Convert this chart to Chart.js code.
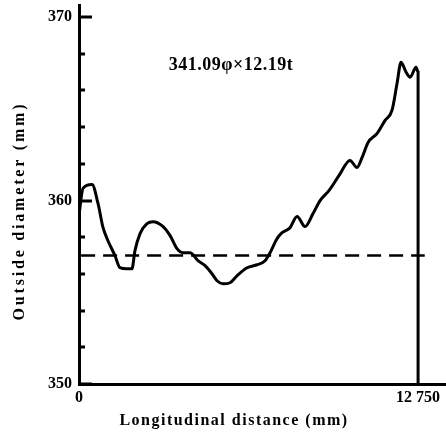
<!DOCTYPE html>
<html>
<head>
<meta charset="utf-8">
<script src="https://cdn.jsdelivr.net/npm/chart.js@4.4.1/dist/chart.umd.min.js"></script>
<style>
  html, body { margin: 0; padding: 0; background: #fff; }
  #wrap { width: 446px; height: 443px; }
</style>
</head>
<body>
<div id="wrap"><canvas id="c"></canvas></div>
<script>
// distance along the pipe (mm) and measured outside diameter (mm)
const distance = [0, 150, 490, 715, 905, 1090, 1355, 1540, 1805, 1990, 2105, 2295, 2555, 2785,
  3120, 3425, 3685, 3910, 4175, 4475, 4740, 5000, 5190, 5415, 5680, 5940, 6320, 6695, 6995,
  7185, 7445, 7635, 7935, 8200, 8500, 8800, 9065, 9405, 9780, 10190, 10455, 10645, 10870,
  11210, 11510, 11770, 11960, 12110, 12300, 12450, 12675, 12750, 12750];
const diameter = [359.2, 360.66, 360.87, 359.84, 358.52, 357.81, 356.99, 356.34, 356.28, 356.28,
  357.27, 358.2, 358.74, 358.85, 358.63, 358.09, 357.38, 357.16, 357.16, 356.72, 356.45, 356.01,
  355.63, 355.46, 355.52, 355.9, 356.34, 356.5, 356.72, 357.16, 357.92, 358.25, 358.52, 359.13,
  358.58, 359.29, 360.0, 360.55, 361.37, 362.19, 361.8, 362.35, 363.17, 363.66, 364.37, 364.92,
  366.39, 367.54, 366.99, 366.72, 367.27, 367.0, 350];

const meanDiameter = 357.0;
const meanFrom = 80, meanTo = 13000;

const yLabelled = [350, 360, 370];
const xTickValues = [0, 12750];
const xTickLabels = ['0', '12 750'];

const xTitle = 'Longitudinal distance (mm)';
const yTitle = 'Outside diameter (mm)';
const note = '341.09\u03c6\u00d712.19t';

const SERIF = '"Liberation Serif", "DejaVu Serif", serif';

/* Ticks nach innen + Achsentitel + Beschriftung */
const decor = {
  id: 'decor',
  afterDraw(chart) {
    const { ctx, chartArea } = chart;
    const ys = chart.scales.y, xs = chart.scales.x;
    ctx.save();
    ctx.strokeStyle = '#000';
    ctx.lineWidth = 3;
    for (let v = 350; v <= 370; v += 2) {
      const py = Math.round(ys.getPixelForValue(v));
      const len = v % 10 === 0 ? 13 : 6;
      ctx.beginPath();
      ctx.moveTo(chartArea.left, py);
      ctx.lineTo(chartArea.left + len, py);
      ctx.stroke();
    }
    ctx.fillStyle = '#000';
    ctx.textAlign = 'center';
    ctx.textBaseline = 'middle';
    ctx.letterSpacing = '1.5px';
    ctx.font = 'bold 16px ' + SERIF;
    ctx.fillText(xTitle, 234, 421);
    ctx.save();
    ctx.translate(20, 211);
    ctx.rotate(-Math.PI / 2);
    ctx.letterSpacing = '2.8px';
    ctx.fillText(yTitle, 0, 0);
    ctx.restore();
    ctx.letterSpacing = '0.5px';
    ctx.font = 'bold 18px ' + SERIF;
    ctx.fillText(note, xs.getPixelForValue(5717), ys.getPixelForValue(367.38));
    ctx.restore();
  }
};

new Chart(document.getElementById('c'), {
  type: 'line',
  data: {
    datasets: [
      {
        data: distance.map((d, i) => ({ x: d, y: diameter[i] })),
        borderColor: '#000', borderWidth: 3, pointRadius: 0, tension: 0.25,
        cubicInterpolationMode: 'monotone', fill: false
      },
      {
        data: [{ x: meanFrom, y: meanDiameter }, { x: meanTo, y: meanDiameter }],
        borderColor: '#000', borderWidth: 2.5, borderDash: [14, 8], pointRadius: 0, fill: false
      }
    ]
  },
  options: {
    responsive: true, maintainAspectRatio: false, animation: false,
    layout: { padding: { top: 5, right: 0, left: 0, bottom: 0 } },
    plugins: { legend: { display: false }, tooltip: { enabled: false } },
    scales: {
      x: {
        type: 'linear', min: 0, max: 13800,
        afterBuildTicks: s => { s.ticks = xTickValues.map(v => ({ value: v })); },
        afterFit: s => { s.height = 59; s.paddingLeft = 0; s.paddingRight = 0; },
        ticks: {
          color: '#000', padding: 4, maxRotation: 0, autoSkip: false,
          font: { family: SERIF, size: 16, weight: 'bold' },
          callback: v => xTickLabels[xTickValues.indexOf(v)]
        },
        grid: { display: false, drawTicks: false },
        border: { display: true, color: '#000', width: 3 }
      },
      y: {
        min: 350, max: 370.66,
        afterBuildTicks: s => { s.ticks = yLabelled.map(v => ({ value: v })); },
        afterFit: s => { s.width = 79; s.paddingTop = 0; s.paddingBottom = 0; },
        ticks: {
          color: '#000', padding: 7, autoSkip: false,
          font: { family: SERIF, size: 16, weight: 'bold' },
          callback: v => String(v)
        },
        grid: { display: false, drawTicks: false },
        border: { display: true, color: '#000', width: 3 }
      }
    }
  },
  plugins: [decor]
});
</script>
</body>
</html>
